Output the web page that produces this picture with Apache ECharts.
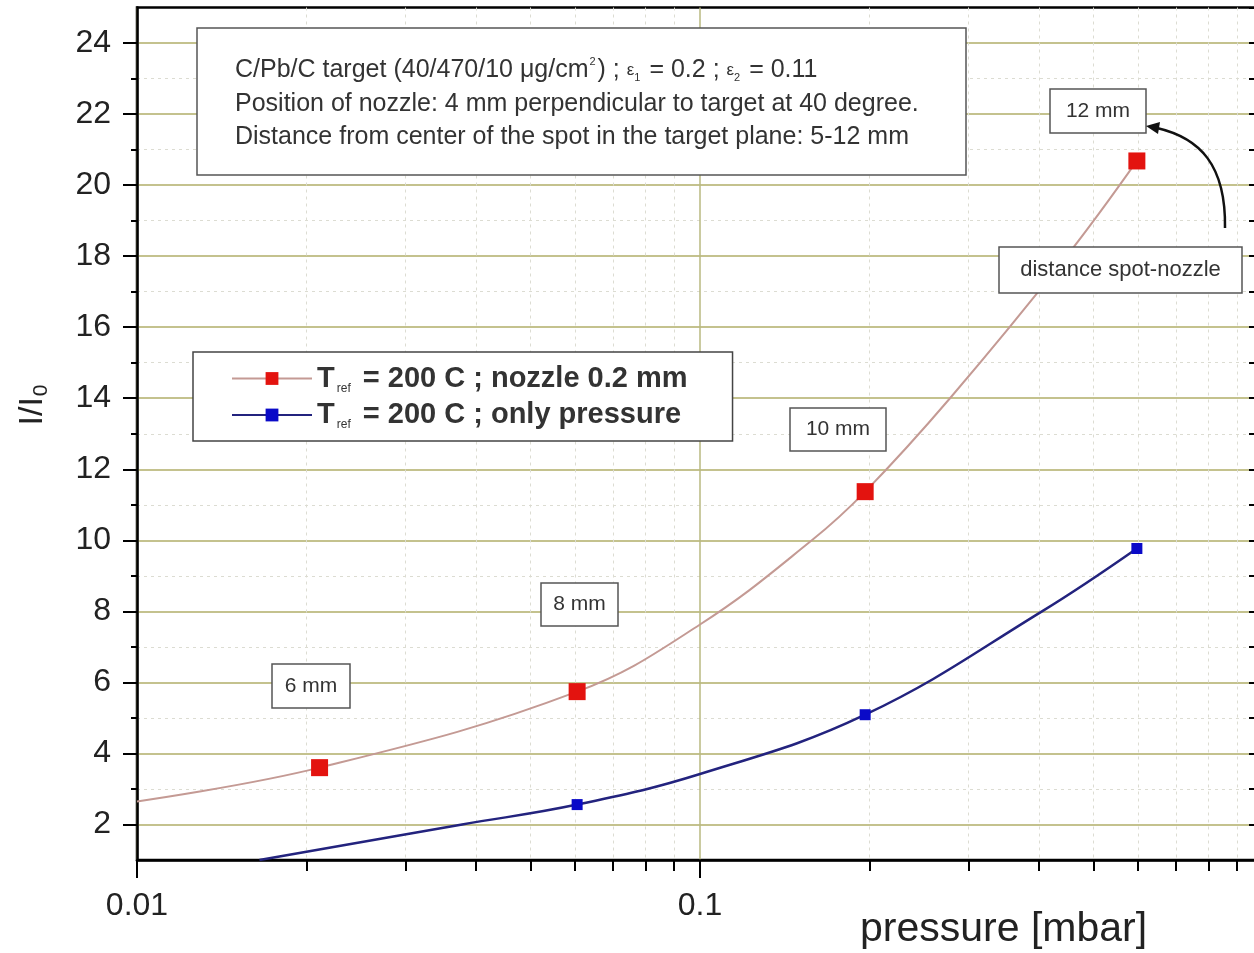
<!DOCTYPE html>
<html>
<head>
<meta charset="utf-8">
<script src="https://cdn.jsdelivr.net/npm/echarts@6/dist/echarts.min.js"></script>
<style>
    html, body {margin: 0; padding: 0; overflow: hidden; background: #fff;}
    #main {position: absolute; left: 0; top: 0; width: 1270px; height: 953px;}
</style>
</head>
<body>
<div id="main"></div>
<script>
// measured points [pressure mbar, I/I0]
let nozzlePoints = [[0.0211, 3.6], [0.0605, 5.74], [0.1965, 11.37], [0.597, 20.68]];
let pressurePoints = [[0.0605, 2.56], [0.1965, 5.09], [0.597, 9.77]];
// fitted curves
let nozzleCurve = [[0.01, 2.65], [0.1, 7.63], [0.158, 10.0], [0.278, 14.0], [0.448, 18.0]];
let pressureCurve = [[0.0165, 1.0], [0.0378, 2.0], [0.1, 3.42], [0.405, 8.0]];

let yMajor = [2, 4, 6, 8, 10, 12, 14, 16, 18, 20, 22, 24];
let yMinor = [3, 5, 7, 9, 11, 13, 15, 17, 19, 21, 23];
let xMinor = [0.02, 0.03, 0.04, 0.05, 0.06, 0.07, 0.08, 0.09, 0.2, 0.3, 0.4, 0.5, 0.6, 0.7, 0.8, 0.9];

// merge curve samples (no symbol) with measured points (square)
function build(points, curve) {
    let out = [];
    for (let i = 0; i < points.length; i++) out.push({value: points[i]});
    for (let i = 0; i < curve.length; i++) out.push({value: curve[i], symbol: 'none'});
    out.sort(function (a, b) {return a.value[0] - b.value[0]});
    return out;
}

function box(x, y, w, h, text, size) {
    return {
        type: 'group', x: x, y: y,
        children: [
            {type: 'rect', z: 100, shape: {x: 0, y: 0, width: w, height: h},
                style: {fill: '#fff', stroke: '#555', lineWidth: 1.5}},
            {type: 'text', z: 101, x: w / 2, y: h / 2,
                style: {text: text, fill: '#333', font: size + 'px "Liberation Sans", Arial, sans-serif',
                    align: 'center', verticalAlign: 'middle'}}
        ]
    };
}

let myChart = echarts.init(document.getElementById('main'));
let font = '"Liberation Sans", Arial, sans-serif';
let option = {
    animation: false,
    backgroundColor: '#fff',
    grid: {left: 137, right: 7, top: 7.5, bottom: 93, show: true, borderColor: '#000', borderWidth: 2.5},
    xAxis: [{
        type: 'log', logBase: 10, min: 0.01, max: 1,
        axisLine: {lineStyle: {color: '#000', width: 2.5}},
        axisTick: {length: 18, lineStyle: {color: '#000', width: 2}},
        axisLabel: {margin: 30, fontSize: 32, color: '#222', fontFamily: 'Liberation Sans',
            formatter: function (v) {return +v >= 0.99 ? '' : String(+(+v).toPrecision(3))}},
        splitLine: {show: true, lineStyle: {color: '#b9b880', width: 1.5}}
    }, {
        type: 'log', logBase: 10, min: 0.01, max: 1, position: 'bottom',
        axisLine: {show: false},
        axisLabel: {show: false},
        axisTick: {customValues: xMinor, length: 11, lineStyle: {color: '#000', width: 2}},
        splitLine: {show: true, lineStyle: {color: '#dcdcd2', width: 1, type: [3, 4]}}
    }],
    yAxis: [{
        type: 'value', min: 1, max: 25, interval: 1,
        axisLine: {show: true, lineStyle: {color: '#000', width: 2.5}},
        axisTick: {customValues: yMajor, length: 14, lineStyle: {color: '#000', width: 2}},
        axisLabel: {customValues: yMajor, margin: 26, fontSize: 32, color: '#222', fontFamily: 'Liberation Sans'},
        splitLine: {show: true, lineStyle: {color: '#c4c28e', width: 2}}
    }, {
        type: 'value', min: 1, max: 25, interval: 1, position: 'left',
        axisLine: {show: false},
        axisLabel: {show: false},
        axisTick: {show: true, customValues: yMinor, length: 6, lineStyle: {color: '#000', width: 2}},
        splitLine: {show: true, lineStyle: {color: '#dcdcd2', width: 1, type: [3, 4]}}
    }, {
        type: 'value', min: 1, max: 25, interval: 1, position: 'right',
        axisLine: {show: true, lineStyle: {color: '#000', width: 2.5}},
        axisLabel: {show: false},
        axisTick: {show: true, inside: true, length: 14, lineStyle: {color: '#000', width: 2}},
        splitLine: {show: false}
    }],
    legend: {
        left: 193, top: 352, orient: 'vertical',
        itemWidth: 80, itemHeight: 16, itemGap: 6,
        padding: [12, 45, 10, 38],
        borderColor: '#444', borderWidth: 1.5, backgroundColor: '#fff',
        z: 50,
        data: ['nozzle', 'pressure'],
        formatter: function (name) {
            let tail = name === 'nozzle' ? 'nozzle 0.2 mm' : 'only pressure';
            return '{t|T}{s|ref}{t| = 200 C ; ' + tail + '}';
        },
        textStyle: {
            rich: {
                t: {fontSize: 29, fontWeight: 'bold', color: '#333', fontFamily: 'Liberation Sans', lineHeight: 34},
                s: {fontSize: 12, color: '#333', fontFamily: 'Liberation Sans', padding: [20, 4, 0, 2]}
            }
        }
    },
    series: [{
        name: 'nozzle', type: 'line', smooth: 0.4,
        xAxisIndex: 0, yAxisIndex: 0,
        symbol: 'rect', symbolSize: 17,
        itemStyle: {color: '#e3130f'},
        lineStyle: {color: '#c49a94', width: 2},
        data: build(nozzlePoints, nozzleCurve)
    }, {
        name: 'pressure', type: 'line', smooth: 0.4,
        xAxisIndex: 0, yAxisIndex: 0,
        symbol: 'rect', symbolSize: 11,
        itemStyle: {color: '#0a0ac8'},
        lineStyle: {color: '#23237e', width: 2.5},
        data: build(pressurePoints, pressureCurve)
    }],
    graphic: [
        {
            type: 'group', x: 197, y: 28,
            children: [
                {type: 'rect', z: 100, shape: {x: 0, y: 0, width: 769, height: 147},
                    style: {fill: '#fff', stroke: '#555', lineWidth: 1.5}},
                {type: 'text', z: 101, x: 38, y: 42,
                    style: {
                        text: '{a|C/Pb/C target (40/470/10 \u03bcg/cm}{p|2}{a|) ; }{e|\u03b5}{b|1}{a| = 0.2 ; }{e|\u03b5}{b|2}{a| = 0.11}',
                        verticalAlign: 'middle',
                        rich: {
                            a: {fontSize: 25, fill: '#333', fontFamily: 'Liberation Sans'},
                            e: {fontSize: 17, fill: '#333', fontFamily: 'Liberation Sans'},
                            p: {fontSize: 11, fill: '#333', padding: [0, 2, 16, 1]},
                            b: {fontSize: 11, fill: '#333', padding: [16, 2, 0, 0]}
                        }
                    }},
                {type: 'text', z: 101, x: 38, y: 76,
                    style: {text: 'Position of nozzle: 4 mm perpendicular to target at 40 degree.',
                        fill: '#333', font: '25px ' + font, verticalAlign: 'middle'}},
                {type: 'text', z: 101, x: 38, y: 109,
                    style: {text: 'Distance from center of the spot in the target plane: 5-12 mm',
                        fill: '#333', font: '25px ' + font, verticalAlign: 'middle'}}
            ]
        },
        box(272, 664, 78, 44, '6 mm', 21),
        box(541, 583, 77, 43, '8 mm', 21),
        box(790, 408, 96, 43, '10 mm', 21),
        box(1050, 89, 96, 44, '12 mm', 21),
        box(999, 247, 243, 46, 'distance spot-nozzle', 22),
        {
            type: 'bezierCurve', z: 100,
            shape: {x1: 1225, y1: 228, cpx1: 1226, cpy1: 165, cpx2: 1200, cpy2: 138, x2: 1157, y2: 128},
            style: {stroke: '#111', lineWidth: 2.5, fill: null}
        },
        {
            type: 'polygon', z: 100,
            shape: {points: [[1146, 126], [1160, 122], [1158, 134]]},
            style: {fill: '#111'}
        },
        {
            type: 'text', x: 33, y: 405, rotation: Math.PI / 2, z: 100,
            style: {
                text: '{a|I/I}{b|0}', align: 'center', verticalAlign: 'middle',
                rich: {
                    a: {fontSize: 34, fill: '#222', fontFamily: 'Liberation Sans'},
                    b: {fontSize: 21, fill: '#222', fontFamily: 'Liberation Sans', padding: [16, 0, 0, 1]}
                }
            }
        },
        {
            type: 'text', x: 860, y: 930, z: 100,
            style: {text: 'pressure [mbar]', fill: '#222', font: '41px ' + font, verticalAlign: 'middle'}
        }
    ]
};
myChart.setOption(option);
</script>
</body>
</html>
